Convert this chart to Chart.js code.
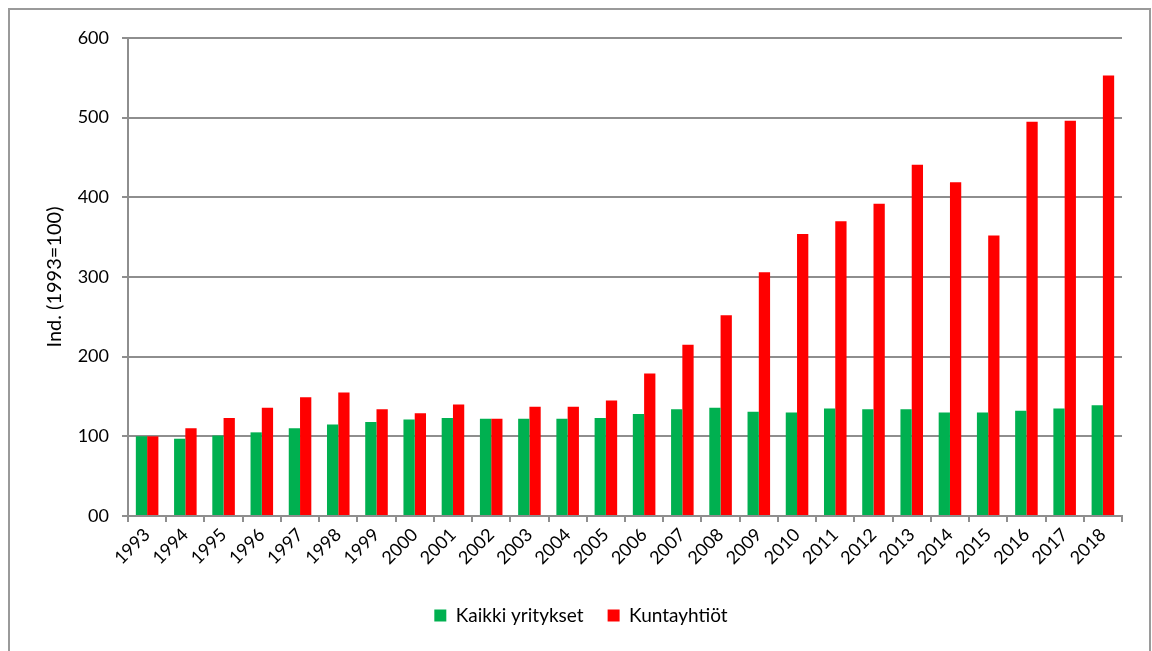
<!DOCTYPE html>
<html lang="fi">
<head>
<meta charset="UTF-8">
<title>Ind. (1993=100)</title>
<script src="https://cdn.jsdelivr.net/npm/chart.js"></script>
<style>
  html, body { margin: 0; padding: 0; background: #fff; }
  #wrap { position: relative; width: 1152px; height: 651px; }
</style>
</head>
<body>
<div id="wrap"><canvas id="chart" width="1152" height="651"></canvas></div>
<script>
  // vuodet ja indeksit luettu kuvasta
  const vuodet = ['1993', '1994', '1995', '1996', '1997', '1998', '1999', '2000', '2001', '2002',
    '2003', '2004', '2005', '2006', '2007', '2008', '2009', '2010', '2011', '2012',
    '2013', '2014', '2015', '2016', '2017', '2018'];
  const kaikkiYritykset = [100, 97, 101, 105, 110, 115, 118, 121, 123, 122,
    122, 122, 123, 128, 134, 136, 131, 130, 135, 134,
    134, 130, 130, 132, 135, 139];
  const kuntayhtiot = [100, 110, 123, 136, 149, 155, 134, 129, 140, 122,
    137, 137, 145, 179, 215, 252, 306, 354, 370, 392,
    441, 419, 352, 495, 496, 553];
  const yTicks = [0, 100, 200, 300, 400, 500, 600];

  const fontti = 'Lato, "Open Sans", sans-serif';
  const harmaa = '#8e8e8e';

  const reunus = {
    id: 'reunus',
    beforeDraw(chart) {
      const ctx = chart.ctx;
      ctx.save();
      ctx.strokeStyle = '#9a9a9a';
      ctx.lineWidth = 2;
      ctx.strokeRect(9, 9, 1141, 700);
      ctx.restore();
    }
  };

  const config = {
    type: 'bar',
    data: {
      labels: vuodet,
      datasets: [
        {
          label: 'Kaikki yritykset',
          data: kaikkiYritykset,
          backgroundColor: '#00B050'
        },
        {
          label: 'Kuntayhtiöt',
          data: kuntayhtiot,
          backgroundColor: '#FF0000'
        }
      ]
    },
    options: {
      responsive: false,
      animation: false,
      layout: { padding: { left: 40, top: 38, right: 30, bottom: 16 } },
      datasets: { bar: { categoryPercentage: 0.59, barPercentage: 1 } },
      plugins: {
        tooltip: { enabled: false },
        legend: {
          position: 'bottom',
          labels: {
            boxWidth: 12,
            boxHeight: 12,
            padding: 24,
            color: '#000',
            font: { family: fontti, size: 19 }
          }
        }
      },
      scales: {
        x: {
          offset: true,
          grid: {
            offset: true,
            drawOnChartArea: false,
            drawTicks: true,
            tickLength: 6,
            color: harmaa,
            lineWidth: 2
          },
          border: { color: harmaa, width: 2 },
          ticks: {
            maxRotation: 45,
            minRotation: 45,
            autoSkip: false,
            color: '#000',
            padding: 2,
            font: { family: fontti, size: 18 }
          },
          afterFit(scale) { scale.height = 66; }
        },
        y: {
          min: 0,
          max: 600,
          afterBuildTicks(scale) { scale.ticks = yTicks.map(v => ({ value: v })); },
          grid: { color: harmaa, lineWidth: 2, tickLength: 6 },
          border: { color: harmaa, width: 2 },
          ticks: {
            color: '#000',
            padding: 13,
            font: { family: fontti, size: 18 },
            callback: v => (v === 0 ? '00' : String(v))
          },
          title: {
            display: true,
            text: 'Ind. (1993=100)',
            color: '#000',
            font: { family: fontti, size: 20 },
            padding: 3
          },
          afterFit(scale) { scale.width = 88; }
        }
      }
    },
    plugins: [reunus]
  };

  new Chart(document.getElementById('chart'), config);
</script>
</body>
</html>
